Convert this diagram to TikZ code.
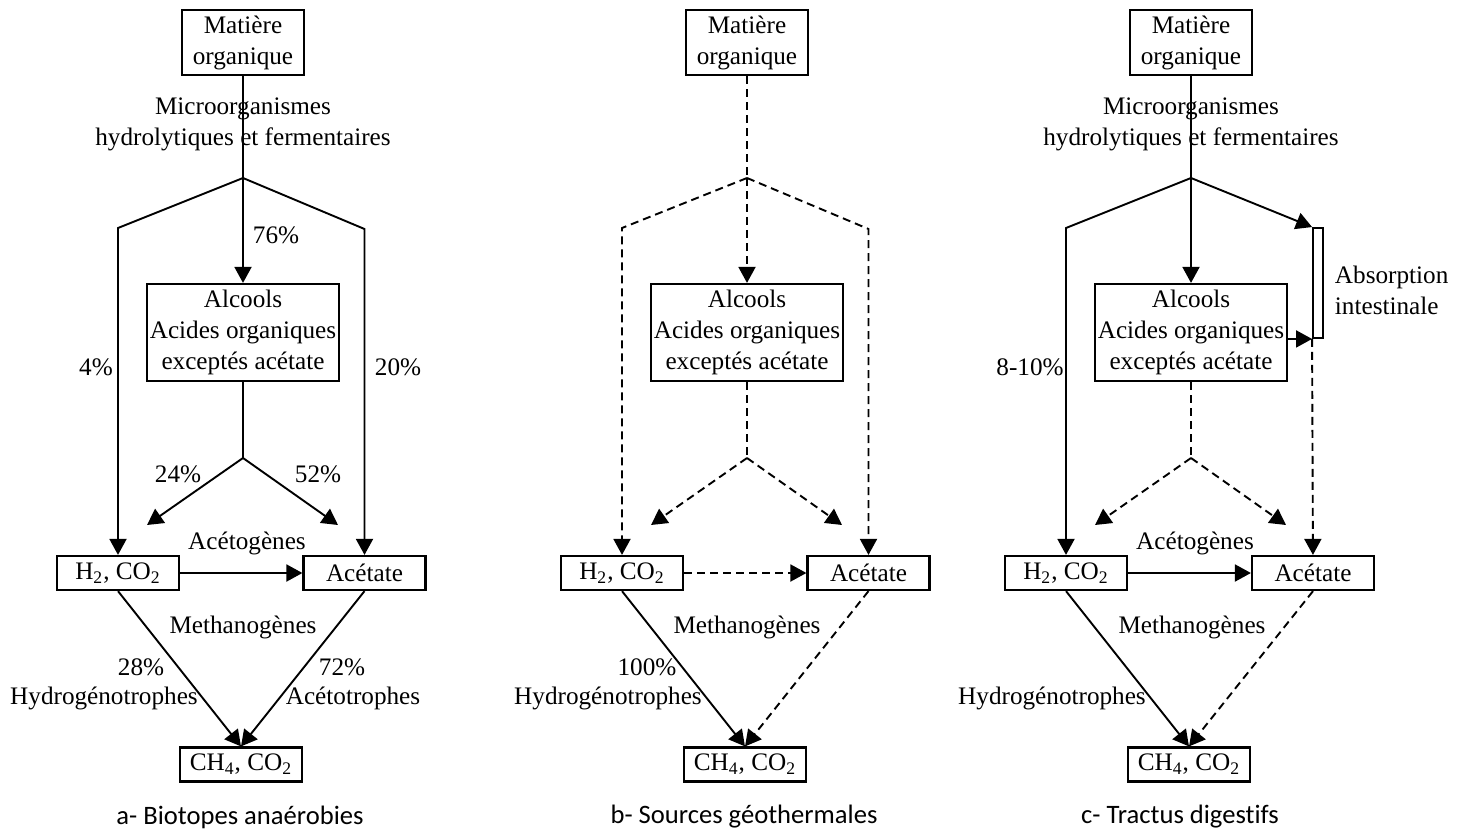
\documentclass[tikz,border=0pt]{standalone}
\usepackage{fontspec}
\setmainfont{Liberation Serif}
\newfontfamily\capfont[Ligatures=NoCommon]{Carlito}
\usetikzlibrary{arrows.meta}

\tikzset{
  box/.style={draw, line width=1.1pt, align=center, inner sep=1pt, minimum width=61pt, minimum height=17pt},
  bigbox/.style={box, minimum width=96pt, minimum height=48.5pt},
  lbl/.style={align=center, inner sep=0pt},
  legende/.style={font=\capfont\fontsize{13.3}{16}\selectfont},
  flow/.style={-{Triangle[length=8pt,width=8.5pt]}},
  faint/.style={dash pattern=on 4pt off 2.5pt}
}

\begin{document}
\begin{tikzpicture}[x=0.5pt, y=-0.5pt, line width=0.95pt,
    every node/.append style={font=\fontsize{12.6}{15.5}\selectfont}]
    \useasboundingbox (0,0) rectangle (1465,834);

    % a
    \node[box, minimum height=32.5pt] (amat) at (243,42.5) {Matière\\organique};
    \node[lbl] (amic) at (243,124.5) {Microorganismes\\hydrolytiques et fermentaires};
    \coordinate (aj) at (243,178);
    \coordinate (ajl) at (118,228);
    \coordinate (ajr) at (364.5,229);
    \node[bigbox] (aalc) at (243,332.5) {Alcools\\Acides organiques\\exceptés acétate};
    \coordinate (ak) at (243,458);
    \coordinate (akl) at (147,525);
    \coordinate (akr) at (338,525);
    \node[box] (ah) at (118,573) {H\textsubscript{2}, CO\textsubscript{2}};
    \node[box] (aa) at (364.5,573) {Acétate};
    \node[box] (ach) at (241,764.5) {CH\textsubscript{4}, CO\textsubscript{2}};
    \node (ap76) at (276,235) {76\%};
    \node (ap4) at (96,367) {4\%};
    \node (ap20) at (398,367) {20\%};
    \node (ap24) at (178,474) {24\%};
    \node (ap52) at (318,474) {52\%};
    \node (aacg) at (247,543) {Acétogènes};
    \node (amet) at (243,627) {Methanogènes};
    \node (ap28) at (141,667) {28\%};
    \node (ahyd) at (104,698) {Hydrogénotrophes};
    \node (ap72) at (342,667) {72\%};
    \node (aact) at (353,698) {Acétotrophes};
    \node[legende] (acap) at (240,817) {a- Biotopes anaérobies};
    \draw (amat) -- (aj);
    \draw[flow] (aj) -- (aalc);
    \draw[flow] (aj) -- (ajl) -- (ah);
    \draw[flow] (aj) -- (ajr) -- (aa);
    \draw (aalc) -- (ak);
    \draw[flow] (ak) -- (akl);
    \draw[flow] (ak) -- (akr);
    \draw[flow] (ah) -- (aa);
    \draw[flow] (ah.south) -- (ach.north);
    \draw[flow] (aa.south) -- (ach.north);

    % b
    \begin{scope}[shift={(504,0)}]
    \node[box, minimum height=32.5pt] (bmat) at (243,42.5) {Matière\\organique};
    \coordinate (bj) at (243,178);
    \coordinate (bjl) at (118,228);
    \coordinate (bjr) at (364.5,229);
    \node[bigbox] (balc) at (243,332.5) {Alcools\\Acides organiques\\exceptés acétate};
    \coordinate (bk) at (243,458);
    \coordinate (bkl) at (147,525);
    \coordinate (bkr) at (338,525);
    \node[box] (bh) at (118,573) {H\textsubscript{2}, CO\textsubscript{2}};
    \node[box] (ba) at (364.5,573) {Acétate};
    \node[box] (bch) at (241,764.5) {CH\textsubscript{4}, CO\textsubscript{2}};
    \node (bmet) at (243,627) {Methanogènes};
    \node (bp100) at (143,667) {100\%};
    \node (bhyd) at (104,698) {Hydrogénotrophes};
    \node[legende] (bcap) at (240,817) {b- Sources géothermales};
    \draw[faint] (bmat) -- (bj);
    \draw[flow, faint] (bj) -- (balc);
    \draw[flow, faint] (bj) -- (bjl) -- (bh);
    \draw[flow, faint] (bj) -- (bjr) -- (ba);
    \draw[faint] (balc) -- (bk);
    \draw[flow, faint] (bk) -- (bkl);
    \draw[flow, faint] (bk) -- (bkr);
    \draw[flow, faint] (bh) -- (ba);
    \draw[flow] (bh.south) -- (bch.north);
    \draw[flow, faint] (ba.south) -- (bch.north);
    \end{scope}

    % c
    \begin{scope}[shift={(948,0)}]
    \node[box, minimum height=32.5pt] (cmat) at (243,42.5) {Matière\\organique};
    \node[lbl] (cmic) at (243,124.5) {Microorganismes\\hydrolytiques et fermentaires};
    \coordinate (cj) at (243,178);
    \coordinate (cjl) at (118,228);
    \node[bigbox] (calc) at (243,332.5) {Alcools\\Acides organiques\\exceptés acétate};
    \node[draw, line width=0.95pt, inner sep=0pt, minimum width=5pt, minimum height=55pt] (cabs) at (370,283) {};
    \node[lbl, align=left, anchor=west] (cabl) at (386,290) {Absorption\\intestinale};
    \coordinate (ck) at (243,458);
    \coordinate (ckl) at (147,525);
    \coordinate (ckr) at (338,525);
    \node[box] (ch) at (118,573) {H\textsubscript{2}, CO\textsubscript{2}};
    \node[box] (ca) at (365,573) {Acétate};
    \node[box] (cch) at (241,764.5) {CH\textsubscript{4}, CO\textsubscript{2}};
    \node (cp810) at (82,367) {8-10\%};
    \node (cacg) at (247,543) {Acétogènes};
    \node (cmet) at (244,627) {Methanogènes};
    \node (chyd) at (104,698) {Hydrogénotrophes};
    \node[legende] (ccap) at (232,817) {c- Tractus digestifs};
    \draw (cmat) -- (cj);
    \draw[flow] (cj) -- (calc);
    \draw[flow] (cj) -- (cjl) -- (ch);
    \draw[flow] (cj) -- (cabs.north west);
    \draw[flow] (calc.east |- cabs.south west) -- (cabs.south west);
    \draw[flow, faint] (cabs.south west) -- (ca);
    \draw[faint] (calc) -- (ck);
    \draw[flow, faint] (ck) -- (ckl);
    \draw[flow, faint] (ck) -- (ckr);
    \draw[flow] (ch) -- (ca);
    \draw[flow] (ch.south) -- (cch.north);
    \draw[flow, faint] (ca.south) -- (cch.north);
    \end{scope}
\end{tikzpicture}
\end{document}
